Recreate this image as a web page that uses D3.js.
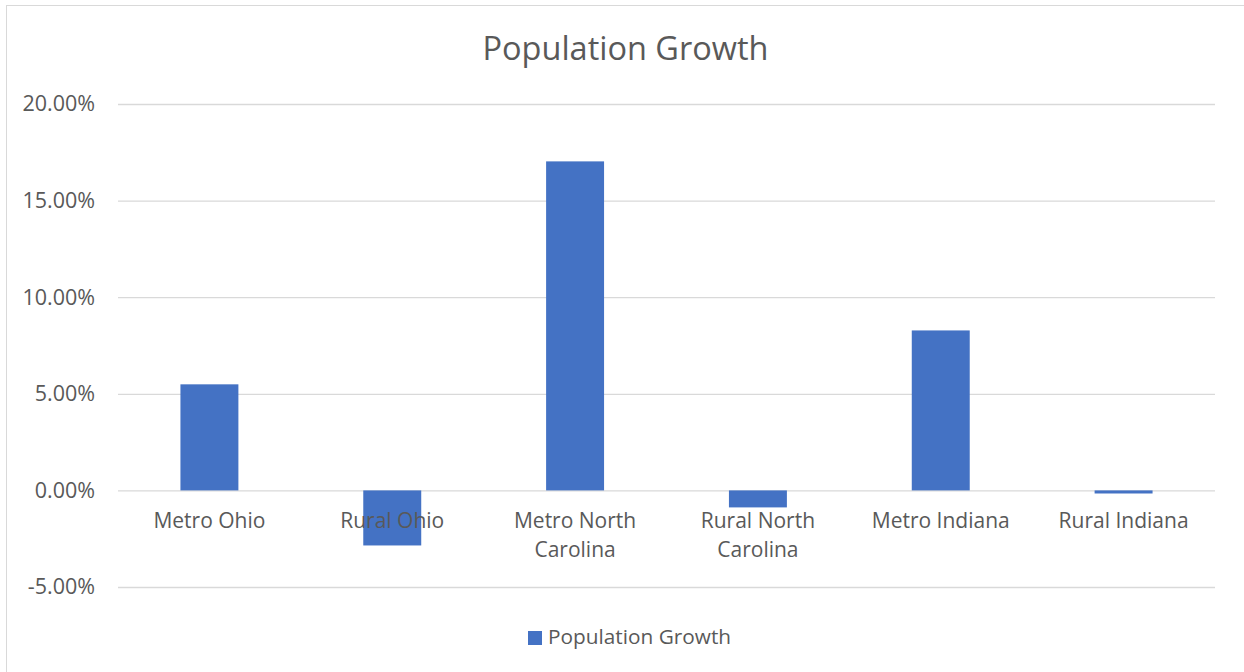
<!DOCTYPE html>
<html>
<head>
<meta charset="utf-8">
<script src="https://cdn.jsdelivr.net/npm/d3@7"></script>
<style>
  html, body { margin: 0; padding: 0; background: #ffffff; }
  svg { display: block; }
  text { font-family: "Open Sans", "Noto Sans", sans-serif; fill: #595959; }
</style>
</head>
<body>
<svg id="chart" width="1244" height="672"></svg>
<script>
const categories = ["Metro Ohio", "Rural Ohio", "Metro North Carolina", "Rural North Carolina", "Metro Indiana", "Rural Indiana"];
const growth = [0.0549, -0.0285, 0.1703, -0.0088, 0.0828, -0.0016];
const tickValues = [-0.05, 0, 0.05, 0.10, 0.15, 0.20];
const seriesName = "Population Growth";
const chartTitle = "Population Growth";

const svg = d3.select("#chart");
const W = 1244, H = 672;
const plot = { left: 118, right: 1215, top: 104, bottom: 587 };

// chart border
svg.append("rect")
  .attr("x", 6.5).attr("y", 5.5)
  .attr("width", W + 10).attr("height", H + 10)
  .attr("fill", "#ffffff").attr("stroke", "#d9d9d9").attr("stroke-width", 1);

const x = d3.scaleBand()
  .domain(categories)
  .range([plot.left, plot.right])
  .paddingInner(0.683)
  .paddingOuter(0.683 / 2);

const y = d3.scaleLinear()
  .domain([-0.05, 0.20])
  .range([plot.bottom, plot.top]);

const locale = d3.formatLocale({ decimal: ".", thousands: ",", grouping: [3], currency: ["$", ""], minus: "-" });

// gridlines + y labels
const yAxis = d3.axisLeft(y)
  .tickValues(tickValues)
  .tickSize(-(plot.right - plot.left))
  .tickPadding(23)
  .tickFormat(locale.format(".2%"));

const gy = svg.append("g")
  .attr("transform", `translate(${plot.left},0)`)
  .call(yAxis);
gy.select(".domain").remove();
gy.selectAll(".tick line").attr("stroke", "#d9d9d9").attr("stroke-width", 1.3);
gy.selectAll(".tick text")
  .attr("font-size", 21.5)
  .attr("fill", "#595959")
  .attr("font-family", "Open Sans, Noto Sans, sans-serif");

// bars
svg.append("g").selectAll("rect")
  .data(growth)
  .join("rect")
  .attr("x", (d, i) => x(categories[i]))
  .attr("width", x.bandwidth())
  .attr("y", d => y(Math.max(0, d)))
  .attr("height", d => Math.abs(y(d) - y(0)))
  .attr("fill", "#4472c4");

// category labels (wrapped)
const labelG = svg.append("g");
const maxW = x.step() * 0.95;
categories.forEach(c => {
  const cx = x(c) + x.bandwidth() / 2;
  const t = labelG.append("text")
    .attr("x", cx)
    .attr("y", 528)
    .attr("text-anchor", "middle")
    .attr("font-size", 21);
  const words = c.split(" ");
  let line = [];
  let tspan = t.append("tspan").attr("x", cx).attr("dy", 0);
  words.forEach(w => {
    line.push(w);
    tspan.text(line.join(" "));
    if (tspan.node().getComputedTextLength() > maxW && line.length > 1) {
      line.pop();
      tspan.text(line.join(" "));
      line = [w];
      tspan = t.append("tspan").attr("x", cx).attr("dy", 29).text(w);
    }
  });
});

// title
svg.append("text")
  .attr("x", 625.5).attr("y", 60)
  .attr("text-anchor", "middle")
  .attr("font-size", 32.5)
  .text(chartTitle);

// legend
const lg = svg.append("g");
lg.append("rect").attr("x", 528).attr("y", 631).attr("width", 14).attr("height", 14).attr("fill", "#4472c4");
lg.append("text").attr("x", 548).attr("y", 644).attr("font-size", 20.8).text(seriesName);
</script>
</body>
</html>
